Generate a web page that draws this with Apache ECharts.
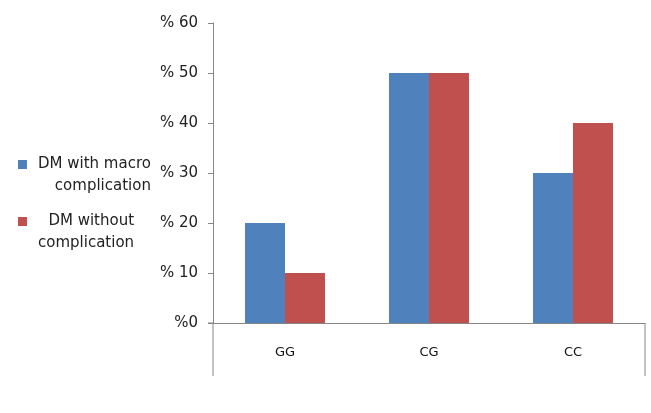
<!DOCTYPE html>
<html>
<head>
<meta charset="utf-8">
<script src="https://cdn.jsdelivr.net/npm/echarts@6/dist/echarts.min.js"></script>
<style>
  html, body { margin: 0; padding: 0; background: #fff; }
  #chart { width: 651px; height: 413px; }
</style>
</head>
<body>
<div id="chart"></div>
<script>
var categories = ['GG', 'CG', 'CC'];
var seriesNames = ['DM with macro\ncomplication', ' DM without\ncomplication'];
var macroValues = [20, 50, 30];
var withoutValues = [10, 50, 40];

var chart = echarts.init(document.getElementById('chart'));
var axisColor = '#868686';

// blank first line so the icon sits on the first real line (middle of 3)
function legendText(name) {
    var lines = name.split('\n');
    return '{b| }\n' + lines.map(function (l) { return '{t|' + l + '}'; }).join('\n');
}
var legendRich = {
    b: { fontSize: 15, lineHeight: 22 },
    t: { fontSize: 15, lineHeight: 22, align: 'right', color: '#222' }
};

function makeLegend(name, top) {
    return {
        orient: 'vertical',
        left: 18,
        top: top,
        padding: 0,
        itemWidth: 9,
        itemHeight: 9,
        icon: 'rect',
        formatter: legendText,
        textStyle: { rich: legendRich, padding: [0, 0, 0, 6] },
        data: [name]
    };
}

var option = {
    animation: false,
    color: ['#4f81bd', '#c0504d'],
    textStyle: { fontFamily: 'DejaVu Sans' },
    legend: [
        makeLegend(seriesNames[0], 135),
        makeLegend(seriesNames[1], 192)
    ],
    grid: { left: 213, right: 6, top: 23, bottom: 90, containLabel: false },
    xAxis: {
        type: 'category',
        data: categories,
        axisLine: { lineStyle: { color: axisColor, width: 1 } },
        axisTick: { show: false },
        axisLabel: { color: '#111', fontSize: 13, margin: 23 }
    },
    yAxis: {
        type: 'value',
        min: 0,
        max: 60,
        interval: 10,
        axisLine: { show: true, lineStyle: { color: axisColor } },
        axisTick: { show: true, length: 5, lineStyle: { color: axisColor } },
        splitLine: { show: false },
        axisLabel: {
            color: '#222',
            fontSize: 15,
            margin: 15,
            formatter: function (v) { return v === 0 ? '%0' : '% ' + v; }
        }
    },
    series: [
        {
            name: seriesNames[0],
            type: 'bar',
            data: macroValues,
            barWidth: 40,
            barGap: '0%'
        },
        {
            name: seriesNames[1],
            type: 'bar',
            data: withoutValues,
            barWidth: 40
        }
    ]
};
chart.setOption(option);

// frame lines under the category axis, like the original
var zeroPt = chart.convertToPixel({ gridIndex: 0 }, [0, 0]);
var bottomY = zeroPt[1];
chart.setOption({
    graphic: [
        { type: 'line', shape: { x1: 213, y1: bottomY, x2: 213, y2: bottomY + 53 }, style: { stroke: axisColor, lineWidth: 1 } },
        { type: 'line', shape: { x1: 645, y1: bottomY, x2: 645, y2: bottomY + 53 }, style: { stroke: axisColor, lineWidth: 1 } },
        { type: 'line', shape: { x1: 208, y1: bottomY, x2: 213, y2: bottomY }, style: { stroke: axisColor, lineWidth: 1 } }
    ]
});
</script>
</body>
</html>
